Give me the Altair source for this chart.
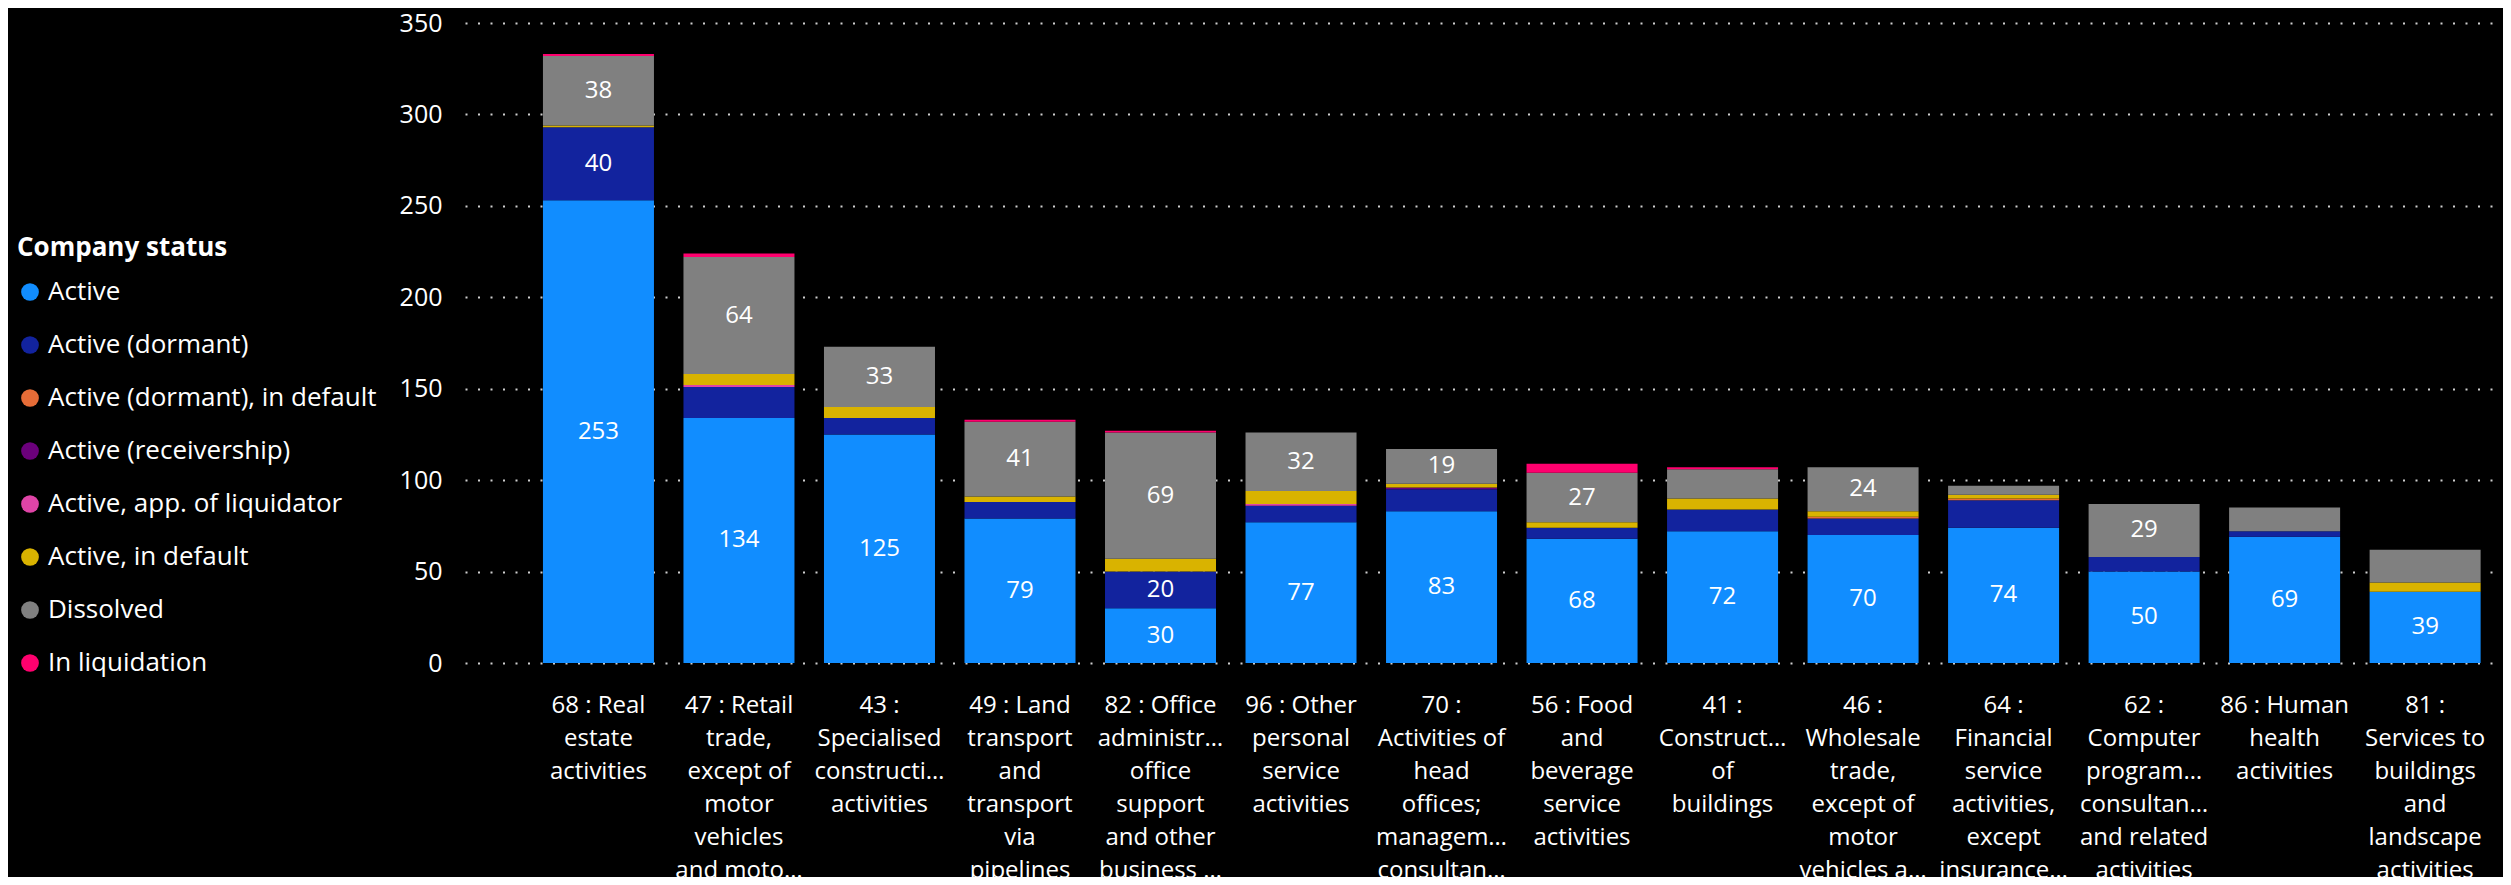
import altair as alt
import pandas as pd

# Category tick labels (as displayed, wrapped lines joined by "|")
categories = [
    "68 : Real|estate|activities",
    "47 : Retail|trade,|except of|motor|vehicles|and moto…",
    "43 :|Specialised|constructi…|activities",
    "49 : Land|transport|and|transport|via|pipelines",
    "82 : Office|administr…|office|support|and other|business …",
    "96 : Other|personal|service|activities",
    "70 :|Activities of|head|offices;|managem…|consultan…",
    "56 : Food|and|beverage|service|activities",
    "41 :|Construct…|of|buildings",
    "46 :|Wholesale|trade,|except of|motor|vehicles a…",
    "64 :|Financial|service|activities,|except|insurance…",
    "62 :|Computer|program…|consultan…|and related|activities",
    "86 : Human|health|activities",
    "81 :|Services to|buildings|and|landscape|activities",
]

statuses = [
    "Active",
    "Active (dormant)",
    "Active (dormant), in default",
    "Active (receivership)",
    "Active, app. of liquidator",
    "Active, in default",
    "Dissolved",
    "In liquidation",
]
colors = ["#118DFF", "#12239E", "#E66C37", "#6B007B", "#E044A7", "#D9B300", "#808080", "#FF006E"]

active = [253, 134, 125, 79, 30, 77, 83, 68, 72, 70, 74, 50, 69, 39]
active_dormant = [40, 17, 9, 9, 20, 9, 12, 6, 12, 9, 15, 8, 3, 0]
active_dormant_default = [0, 0, 0, 0, 0, 0, 0, 0, 0, 1, 1, 0, 0, 0]
active_receivership = [0, 0, 0, 0, 0, 0, 1, 0, 0, 0, 0, 0, 0, 0]
active_liquidator = [0, 1, 0, 0, 0, 1, 0, 0, 0, 0, 0, 0, 0, 0]
active_default = [1, 6, 6, 3, 7, 7, 2, 3, 6, 3, 2, 0, 0, 5]
dissolved = [38, 64, 33, 41, 69, 32, 19, 27, 16, 24, 5, 29, 13, 18]
in_liquidation = [1, 2, 0, 1, 1, 0, 0, 5, 1, 0, 0, 0, 0, 0]

# Which segments carry a data label (1 = shown)
show_active = [1] * 14
show_dormant = [1, 0, 0, 0, 1, 0, 0, 0, 0, 0, 0, 0, 0, 0]
show_dissolved = [1, 1, 1, 1, 1, 1, 1, 1, 0, 1, 0, 1, 0, 0]
no_labels = [0] * 14

series = [
    (active, show_active),
    (active_dormant, show_dormant),
    (active_dormant_default, no_labels),
    (active_receivership, no_labels),
    (active_liquidator, no_labels),
    (active_default, no_labels),
    (dissolved, show_dissolved),
    (in_liquidation, no_labels),
]

rows = []
for si, (vals, shows) in enumerate(series):
    for ci, cat in enumerate(categories):
        rows.append({"category": cat, "status": statuses[si], "order": si,
                     "value": vals[ci], "show": shows[ci]})
df = pd.DataFrame(rows)

FONT = "Open Sans"

x_enc = alt.X(
    "category:N",
    sort=categories,
    scale=alt.Scale(paddingInner=0.21, paddingOuter=0.357, align=0.777),
    axis=alt.Axis(
        title=None, labelAngle=0, ticks=False, domain=False, grid=False,
        labelExpr="split(datum.label, '|')", labelFontSize=24, labelLineHeight=33,
        labelColor="#FFFFFF", labelPadding=30, labelLimit=300, labelOverlap=False,
        labelBaseline="top",
    ),
)

base = alt.Chart(df).transform_stack(
    stack="value", groupby=["category"], sort=[alt.SortField("order", order="ascending")],
    as_=["y0", "y1"],
).transform_calculate(mid="(datum.y0 + datum.y1) / 2")

bars = base.mark_bar().encode(
    x=x_enc,
    y=alt.Y(
        "y1:Q",
        scale=alt.Scale(domain=[0, 350], nice=False),
        axis=alt.Axis(
            title=None, values=[0, 50, 100, 150, 200, 250, 300, 350], ticks=False, domain=False,
            grid=True, gridColor="#CFCFCF", gridDash=[2, 10.5], gridWidth=2,
            labelFontSize=25, labelColor="#FFFFFF", labelPadding=23,
        ),
    ),
    y2="y0:Q",
    color=alt.Color(
        "status:N",
        scale=alt.Scale(domain=statuses, range=colors),
        legend=alt.Legend(
            title="Company status", orient="none", legendX=-448, legendY=212,
            symbolType="circle", symbolSize=314, symbolStrokeWidth=0, symbolOpacity=1,
            labelFontSize=26, titleFontSize=26, titleFontWeight="bold",
            labelColor="#FFFFFF", titleColor="#FFFFFF", labelOffset=5,
            rowPadding=27, titlePadding=18, labelLimit=500, titleLimit=500,
        ),
    ),
)

labels = base.transform_filter("datum.show == 1 && datum.value > 0").mark_text(
    color="#FFFFFF", fontSize=24, align="center", baseline="middle", font=FONT,
).encode(
    x=alt.X("category:N", sort=categories),
    y=alt.Y("mid:Q"),
    text=alt.Text("value:Q"),
)

chart = alt.layer(bars, labels).properties(
    width=2038, height=640,
    autosize=alt.AutoSizeParams(type="none"),
    padding={"left": 457, "top": 15, "right": 0, "bottom": 214},
    background="#000000",
).configure(font=FONT).configure_view(stroke=None, strokeWidth=0)

chart.save("out.html", embed_options={"renderer": "svg", "actions": False})
